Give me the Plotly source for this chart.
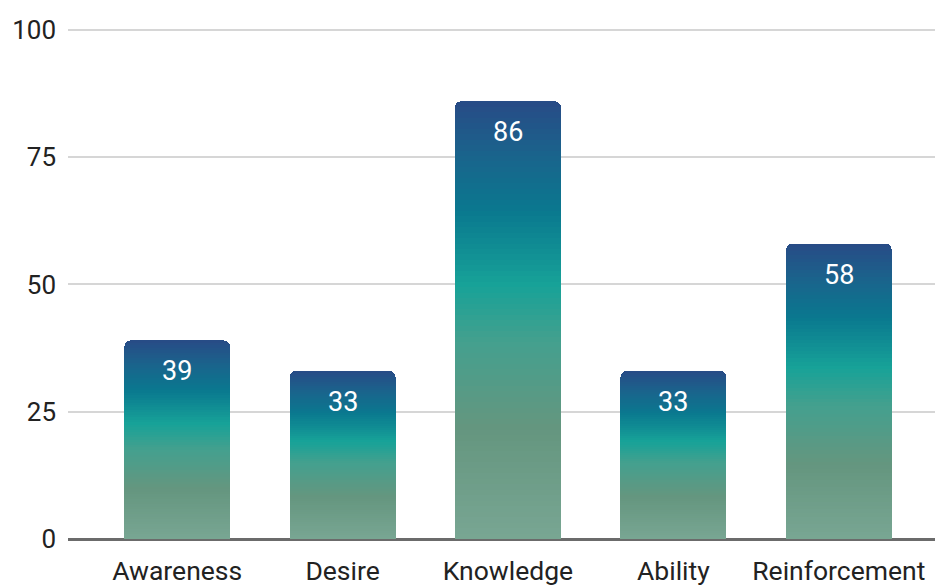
import plotly.graph_objects as go

categories = ["Awareness", "Desire", "Knowledge", "Ability", "Reinforcement"]
values = [39, 33, 86, 33, 58]
y_ticks = [0, 25, 50, 75, 100]

# gradient stops: fraction of bar height from bottom -> colour
stops = [
    (0.00, (0x78, 0xa6, 0x93)),
    (0.25, (0x65, 0x96, 0x7f)),
    (0.45, (0x44, 0xa0, 0x8e)),
    (0.58, (0x17, 0xa2, 0x98)),
    (0.75, (0x0a, 0x78, 0x8f)),
    (0.88, (0x1a, 0x63, 0x8c)),
    (1.00, (0x28, 0x4b, 0x86)),
]


def colour_at(t):
    for (t0, c0), (t1, c1) in zip(stops[:-1], stops[1:]):
        if t <= t1:
            f = (t - t0) / (t1 - t0) if t1 > t0 else 0
            return "rgb(%d,%d,%d)" % tuple(round(a + (b - a) * f) for a, b in zip(c0, c1))
    return "rgb(%d,%d,%d)" % stops[-1][1]


N = 80
fig = go.Figure()
for k in range(N):
    fig.add_trace(go.Bar(
        x=categories,
        y=[v / N for v in values],
        marker=dict(color=colour_at((k + 0.5) / N), line=dict(width=0)),
        width=0.64,
        showlegend=False,
        hoverinfo="skip",
    ))

for c, v in zip(categories, values):
    fig.add_annotation(x=c, y=v, text=str(v), showarrow=False, yanchor="top",
                       yshift=-13, font=dict(color="white", size=27, family="Roboto"))

fig.update_layout(
    barmode="stack",
    barcornerradius=6,
    width=943, height=586,
    margin=dict(l=60, r=8, t=17, b=55, autoexpand=False),
    plot_bgcolor="white", paper_bgcolor="white",
    font=dict(family="Roboto", size=26, color="#222"),
)
fig.update_xaxes(range=[-0.66, 4.63], showgrid=False, showline=False, ticks="",
                 automargin=False, ticklabelstandoff=13,
                 tickfont=dict(size=26.5, color="#222"))
fig.update_yaxes(range=[0, 100.98], tickvals=y_ticks, showgrid=True, gridcolor="#d6d6d6",
                 gridwidth=2, zeroline=True, zerolinecolor="#6b6b6b", zerolinewidth=3,
                 automargin=False, ticks="", ticklabelstandoff=11,
                 tickfont=dict(size=26, color="#222"))

fig.write_html("out.html")
